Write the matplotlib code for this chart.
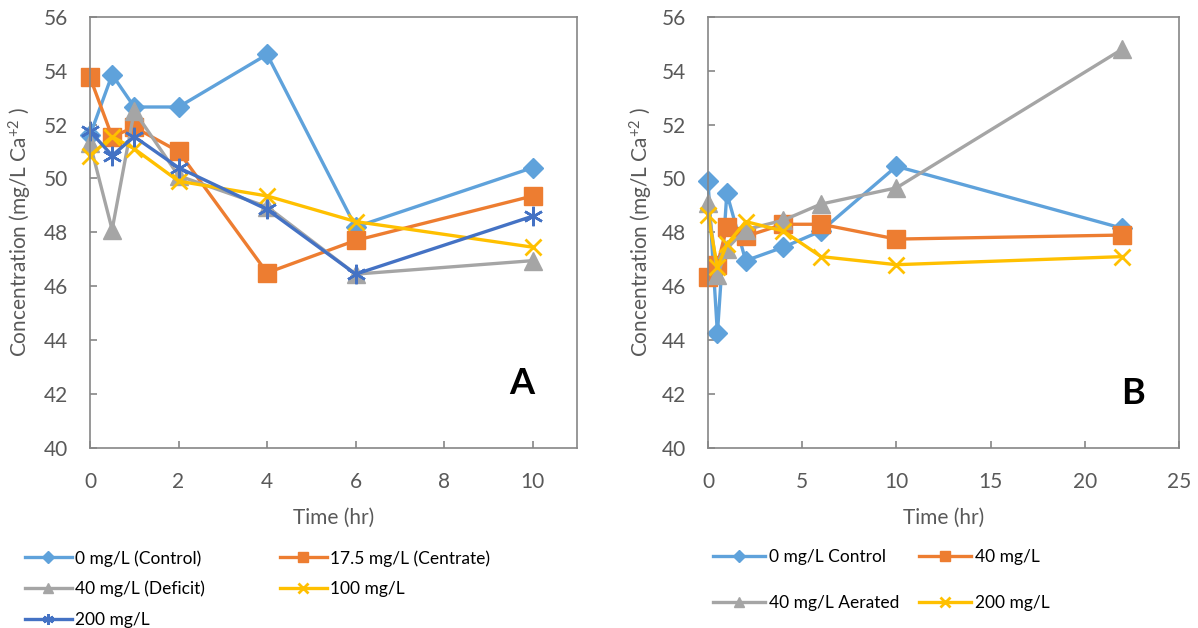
import matplotlib
matplotlib.use("Agg")
import matplotlib.pyplot as plt

plt.rcParams['font.family'] = ['Lato', 'DejaVu Sans']
plt.rcParams['mathtext.default'] = 'regular'

# ---------------- data ----------------
time_a = [0, 0.5, 1, 2, 4, 6, 10]
a_control = [51.6, 53.85, 52.65, 52.65, 54.6, 48.2, 50.4]
a_centrate = [53.75, 51.55, 51.9, 51.0, 46.5, 47.7, 49.35]
a_deficit = [51.3, 48.1, 52.5, 50.1, 48.95, 46.45, 46.95]
a_100 = [50.85, 51.55, 51.1, 49.9, 49.35, 48.4, 47.45]
a_200 = [51.75, 50.85, 51.55, 50.4, 48.85, 46.45, 48.6]
labels_a = ["0 mg/L (Control)", "17.5 mg/L (Centrate)", "40 mg/L (Deficit)",
            "100 mg/L", "200 mg/L"]

time_b = [0, 0.5, 1, 2, 4, 6, 10, 22]
b_control = [49.9, 44.25, 49.45, 46.95, 47.45, 48.05, 50.45, 48.15]
b_40 = [46.35, 46.8, 48.2, 47.85, 48.3, 48.3, 47.75, 47.9]
b_aerated = [49.1, 46.4, 47.4, 48.1, 48.45, 49.05, 49.65, 54.8]
b_200 = [48.65, 46.7, 47.55, 48.4, 48.05, 47.1, 46.8, 47.1]
labels_b = ["0 mg/L Control", "40 mg/L", "40 mg/L Aerated", "200 mg/L"]

yticks = [40, 42, 44, 46, 48, 50, 52, 54, 56]
xticks_a = [0, 2, 4, 6, 8, 10]
xticks_b = [0, 5, 10, 15, 20, 25]

# ---------------- styles ----------------
C_LBLUE = '#5FA2DB'
C_ORANGE = '#ED7D31'
C_GRAY = '#A5A5A5'
C_YELLOW = '#FFC000'
C_DBLUE = '#4472C4'
AX_COL = '#868686'
TXT_COL = '#595959'
LW = 2.4

star = (6, 2, 0)
sty = {
    'ctrl': dict(color=C_LBLUE, marker='D', markersize=10.5),
    'orng': dict(color=C_ORANGE, marker='s', markersize=12.5),
    'gray': dict(color=C_GRAY, marker='^', markersize=13),
    'yell': dict(color=C_YELLOW, marker='x', markersize=12, markeredgewidth=2),
    'dblu': dict(color=C_DBLUE, marker=star, markersize=14, markeredgewidth=1.8),
}

W, H = 1198, 628
fig = plt.figure(figsize=(W / 100, H / 100), dpi=100)

def frac_box(l, r, t, b):
    return [l / W, 1 - b / H, (r - l) / W, (b - t) / H]

axA = fig.add_axes(frac_box(90, 577, 16.7, 448))
axB = fig.add_axes(frac_box(708, 1179, 16.7, 448))

def style_axis(ax, xlim, xticks):
    ax.set_xlim(*xlim)
    ax.set_ylim(40, 56)
    ax.set_xticks(xticks)
    ax.set_yticks(yticks)
    for s in ax.spines.values():
        s.set_color(AX_COL)
        s.set_linewidth(1.2)
    ax.tick_params(axis='both', direction='in', length=5, width=1.2,
                   color=AX_COL, labelcolor=TXT_COL, labelsize=15)
    ax.tick_params(axis='y', pad=16)
    ax.tick_params(axis='x', pad=17)
    ax.set_xlabel("Time (hr)", fontsize=15, color=TXT_COL)
    ax.set_ylabel("Concentration (mg/L Ca$^{+2}$ )", fontsize=15, color=TXT_COL)
    ax.xaxis.set_label_coords(0.5, -0.162)
    ax.xaxis.label.set_va('center')
    ax.yaxis.set_label_coords(-0.142, 0.5)
    ax.yaxis.label.set_va('center')

def legend_order(items, ncol=2):
    # matplotlib fills legend columns first; reorder so it reads row by row
    return [items[i] for c in range(ncol) for i in range(c, len(items), ncol)]

# Panel A
series_a = [(a_control, 'ctrl'), (a_centrate, 'orng'), (a_deficit, 'gray'),
            (a_100, 'yell'), (a_200, 'dblu')]
handles_a = []
for (vals, key), lab in zip(series_a, labels_a):
    ln, = axA.plot(time_a, vals, linewidth=LW, label=lab, clip_on=False, **sty[key])
    handles_a.append(ln)
style_axis(axA, (0, 11), xticks_a)
axA.text(522 / W, 1 - 383 / H, "A", transform=fig.transFigure, fontsize=26,
         fontweight='bold', ha='center', va='center', color='black')

# Panel B
series_b = [(b_control, 'ctrl'), (b_40, 'orng'), (b_aerated, 'gray'), (b_200, 'yell')]
handles_b = []
for (vals, key), lab in zip(series_b, labels_b):
    ln, = axB.plot(time_b, vals, linewidth=LW, label=lab, clip_on=False, **sty[key])
    handles_b.append(ln)
style_axis(axB, (0, 25), xticks_b)
axB.text(1133 / W, 1 - 393 / H, "B", transform=fig.transFigure, fontsize=26,
         fontweight='bold', ha='center', va='center', color='black')

# Legends
FS_LEG = 12.5
fig.legend(handles=legend_order(handles_a), labels=legend_order(labels_a), ncol=2,
           loc='upper left', bbox_to_anchor=(25 / W, 1 - 550 / H),
           bbox_transform=fig.transFigure, frameon=False, fontsize=FS_LEG,
           handlelength=2.7, handletextpad=0.2, columnspacing=4.3, labelspacing=0.82,
           borderpad=0, borderaxespad=0, markerscale=0.55)
fig.legend(handles=legend_order(handles_b), labels=legend_order(labels_b), ncol=2,
           loc='upper left', bbox_to_anchor=(713 / W, 1 - 549 / H),
           bbox_transform=fig.transFigure, frameon=False, fontsize=FS_LEG,
           handlelength=3.0, handletextpad=0.2, columnspacing=1.17, labelspacing=1.75,
           borderpad=0, borderaxespad=0, markerscale=0.55)

fig.savefig("out.png", dpi=100)
